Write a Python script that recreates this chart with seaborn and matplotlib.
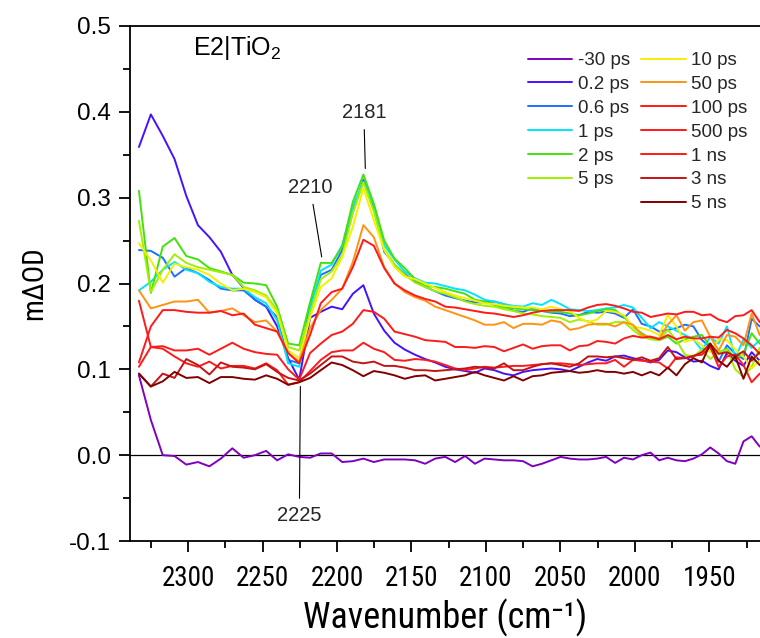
import numpy as np
import pandas as pd
import matplotlib
matplotlib.use("Agg")
import matplotlib.pyplot as plt
import seaborn as sns
from matplotlib.lines import Line2D
from matplotlib.ticker import MultipleLocator, FormatStrFormatter
from matplotlib import font_manager as fm
from matplotlib.font_manager import FontProperties

# ---------------- data ----------------
wavenumber = [2333.0, 2325.0, 2317.0, 2309.1, 2301.2, 2293.4, 2285.7, 2278.0, 2270.3, 2262.7,
              2255.1, 2247.6, 2240.2, 2232.8, 2225.4, 2218.1, 2210.9, 2203.6, 2196.5, 2189.4,
              2182.3, 2175.3, 2168.3, 2161.4, 2154.5, 2147.6, 2140.8, 2134.1, 2127.3, 2120.7,
              2114.0, 2107.4, 2100.9, 2094.4, 2087.9, 2081.5, 2075.1, 2068.7, 2062.4, 2056.1,
              2049.9, 2043.7, 2037.5, 2031.4, 2025.3, 2019.3, 2013.3, 2007.3, 2001.3, 1995.4,
              1989.5, 1983.7, 1977.9, 1972.1, 1966.4, 1960.7, 1955.0, 1949.4, 1943.8, 1938.2,
              1932.6, 1927.1, 1921.6, 1916.2]

delays = ["-30 ps", "0.2 ps", "0.6 ps", "1 ps", "2 ps", "5 ps",
          "10 ps", "50 ps", "100 ps", "500 ps", "1 ns", "3 ns", "5 ns"]

line_colors = ["#8000C0", "#4512FF", "#1E70FF", "#00E5FF", "#44E010", "#A0F000",
               "#F5EF00", "#FF9414", "#FF1A1A", "#FF1A1A", "#FF1A1A", "#C41414", "#800000"]

od_m30ps = [0.093, 0.041, 0.000, -0.001, -0.011, -0.008, -0.013, -0.004, 0.008, -0.003,
            0.000, 0.005, -0.006, 0.001, -0.002, -0.003, 0.002, 0.002, -0.008, -0.007,
            -0.004, -0.008, -0.005, -0.005, -0.005, -0.006, -0.010, -0.004, -0.002, -0.008,
            -0.001, -0.010, -0.004, -0.005, -0.006, -0.006, -0.007, -0.013, -0.010, -0.006,
            -0.002, -0.004, -0.005, -0.005, -0.004, -0.002, -0.009, -0.003, -0.005, 0.000,
            0.003, -0.006, -0.003, -0.006, -0.007, -0.004, 0.001, 0.009, 0.002, -0.007,
            -0.010, 0.016, 0.022, 0.010]

od_0p2ps = [0.359, 0.397, 0.372, 0.345, 0.302, 0.268, 0.254, 0.237, 0.210, 0.195,
            0.181, 0.173, 0.150, 0.113, 0.088, 0.160, 0.167, 0.173, 0.170, 0.188,
            0.198, 0.165, 0.145, 0.131, 0.123, 0.117, 0.112, 0.108, 0.103, 0.100,
            0.098, 0.096, 0.101, 0.099, 0.095, 0.093, 0.097, 0.099, 0.100, 0.101,
            0.100, 0.098, 0.103, 0.108, 0.112, 0.110, 0.115, 0.116, 0.113, 0.111,
            0.108, 0.111, 0.122, 0.120, 0.114, 0.109, 0.110, 0.104, 0.100, 0.119,
            0.110, 0.104, 0.120, 0.110]

od_0p6ps = [0.239, 0.238, 0.230, 0.208, 0.218, 0.212, 0.204, 0.194, 0.192, 0.192,
            0.181, 0.173, 0.161, 0.111, 0.107, 0.175, 0.210, 0.216, 0.239, 0.283,
            0.321, 0.288, 0.237, 0.222, 0.211, 0.202, 0.196, 0.191, 0.186, 0.183,
            0.180, 0.178, 0.178, 0.179, 0.176, 0.168, 0.167, 0.171, 0.168, 0.166,
            0.165, 0.162, 0.163, 0.167, 0.166, 0.167, 0.165, 0.160, 0.170, 0.153,
            0.150, 0.144, 0.146, 0.148, 0.152, 0.150, 0.134, 0.126, 0.109, 0.128,
            0.118, 0.112, 0.159, 0.150]

od_1ps = [0.192, 0.202, 0.216, 0.225, 0.216, 0.212, 0.202, 0.196, 0.194, 0.194,
          0.184, 0.177, 0.157, 0.107, 0.103, 0.170, 0.215, 0.222, 0.245, 0.290,
          0.318, 0.292, 0.245, 0.228, 0.214, 0.206, 0.201, 0.200, 0.197, 0.194,
          0.192, 0.187, 0.181, 0.179, 0.176, 0.174, 0.173, 0.177, 0.175, 0.181,
          0.176, 0.170, 0.169, 0.168, 0.169, 0.171, 0.172, 0.175, 0.172, 0.160,
          0.148, 0.155, 0.150, 0.145, 0.140, 0.135, 0.122, 0.138, 0.130, 0.150,
          0.113, 0.135, 0.125, 0.134]

od_2ps = [0.308, 0.189, 0.243, 0.253, 0.232, 0.228, 0.218, 0.214, 0.210, 0.201,
          0.200, 0.198, 0.173, 0.130, 0.128, 0.178, 0.224, 0.224, 0.243, 0.295,
          0.327, 0.293, 0.250, 0.229, 0.218, 0.205, 0.197, 0.196, 0.194, 0.191,
          0.188, 0.181, 0.179, 0.175, 0.172, 0.171, 0.170, 0.169, 0.168, 0.167,
          0.167, 0.165, 0.163, 0.165, 0.168, 0.170, 0.169, 0.161, 0.150, 0.142,
          0.136, 0.134, 0.138, 0.130, 0.135, 0.138, 0.140, 0.127, 0.120, 0.124,
          0.112, 0.118, 0.142, 0.130]

od_5ps = [0.273, 0.190, 0.216, 0.234, 0.224, 0.219, 0.216, 0.213, 0.210, 0.196,
          0.192, 0.186, 0.169, 0.126, 0.122, 0.165, 0.205, 0.214, 0.233, 0.282,
          0.318, 0.284, 0.240, 0.222, 0.210, 0.201, 0.196, 0.191, 0.188, 0.184,
          0.179, 0.176, 0.174, 0.173, 0.170, 0.168, 0.165, 0.164, 0.162, 0.161,
          0.160, 0.155, 0.158, 0.156, 0.152, 0.152, 0.155, 0.155, 0.146, 0.138,
          0.135, 0.134, 0.146, 0.134, 0.117, 0.115, 0.123, 0.112, 0.120, 0.123,
          0.100, 0.091, 0.103, 0.125]

od_10ps = [0.247, 0.227, 0.201, 0.223, 0.219, 0.216, 0.210, 0.200, 0.192, 0.194,
           0.190, 0.184, 0.165, 0.122, 0.113, 0.160, 0.196, 0.206, 0.231, 0.266,
           0.311, 0.274, 0.239, 0.219, 0.208, 0.205, 0.200, 0.195, 0.190, 0.186,
           0.183, 0.180, 0.177, 0.176, 0.174, 0.173, 0.172, 0.172, 0.170, 0.173,
           0.170, 0.168, 0.160, 0.155, 0.158, 0.168, 0.167, 0.163, 0.150, 0.148,
           0.145, 0.140, 0.163, 0.150, 0.132, 0.135, 0.128, 0.120, 0.135, 0.134,
           0.123, 0.115, 0.101, 0.110]

od_50ps = [0.192, 0.171, 0.175, 0.179, 0.179, 0.181, 0.166, 0.168, 0.171, 0.163,
           0.155, 0.157, 0.144, 0.119, 0.109, 0.148, 0.169, 0.181, 0.194, 0.225,
           0.268, 0.254, 0.219, 0.200, 0.190, 0.184, 0.180, 0.173, 0.169, 0.165,
           0.161, 0.157, 0.152, 0.152, 0.155, 0.148, 0.153, 0.153, 0.152, 0.157,
           0.155, 0.146, 0.148, 0.152, 0.153, 0.153, 0.150, 0.155, 0.152, 0.140,
           0.138, 0.136, 0.152, 0.163, 0.145, 0.155, 0.157, 0.138, 0.122, 0.140,
           0.138, 0.128, 0.165, 0.140]

od_100ps = [0.108, 0.150, 0.169, 0.169, 0.167, 0.166, 0.166, 0.168, 0.163, 0.165,
            0.152, 0.148, 0.144, 0.119, 0.107, 0.140, 0.177, 0.190, 0.194, 0.219,
            0.251, 0.244, 0.218, 0.200, 0.192, 0.186, 0.182, 0.179, 0.173, 0.172,
            0.170, 0.168, 0.166, 0.165, 0.163, 0.161, 0.163, 0.166, 0.168, 0.169,
            0.169, 0.169, 0.168, 0.172, 0.175, 0.176, 0.174, 0.171, 0.167, 0.166,
            0.161, 0.163, 0.165, 0.164, 0.167, 0.167, 0.163, 0.164, 0.158, 0.155,
            0.162, 0.163, 0.169, 0.155]

od_500ps = [0.103, 0.126, 0.127, 0.122, 0.122, 0.124, 0.117, 0.124, 0.131, 0.124,
            0.120, 0.118, 0.117, 0.100, 0.088, 0.119, 0.130, 0.140, 0.144, 0.153,
            0.169, 0.167, 0.159, 0.144, 0.141, 0.138, 0.134, 0.133, 0.132, 0.126,
            0.126, 0.125, 0.127, 0.126, 0.121, 0.125, 0.129, 0.124, 0.127, 0.128,
            0.128, 0.122, 0.127, 0.128, 0.133, 0.132, 0.130, 0.136, 0.139, 0.137,
            0.138, 0.135, 0.140, 0.135, 0.138, 0.136, 0.136, 0.138, 0.137, 0.146,
            0.142, 0.136, 0.128, 0.118]

od_1ns = [0.180, 0.126, 0.124, 0.115, 0.107, 0.103, 0.109, 0.101, 0.104, 0.104,
          0.101, 0.107, 0.099, 0.082, 0.085, 0.098, 0.111, 0.120, 0.122, 0.122,
          0.131, 0.124, 0.120, 0.111, 0.110, 0.112, 0.111, 0.109, 0.105, 0.101,
          0.099, 0.101, 0.103, 0.102, 0.103, 0.104, 0.104, 0.105, 0.106, 0.107,
          0.107, 0.106, 0.105, 0.106, 0.107, 0.107, 0.111, 0.103, 0.111, 0.110,
          0.109, 0.108, 0.101, 0.114, 0.113, 0.116, 0.117, 0.126, 0.103, 0.115,
          0.117, 0.105, 0.085, 0.095]

od_3ns = [0.095, 0.080, 0.095, 0.090, 0.112, 0.105, 0.094, 0.108, 0.103, 0.102,
          0.100, 0.106, 0.097, 0.090, 0.087, 0.095, 0.105, 0.115, 0.115, 0.109,
          0.107, 0.109, 0.104, 0.104, 0.102, 0.099, 0.099, 0.098, 0.099, 0.100,
          0.101, 0.103, 0.102, 0.101, 0.107, 0.099, 0.099, 0.103, 0.106, 0.107,
          0.105, 0.103, 0.107, 0.115, 0.115, 0.114, 0.115, 0.113, 0.111, 0.114,
          0.110, 0.113, 0.126, 0.112, 0.113, 0.115, 0.120, 0.130, 0.118, 0.120,
          0.115, 0.121, 0.110, 0.120]

od_5ns = [0.095, 0.080, 0.086, 0.097, 0.090, 0.091, 0.084, 0.091, 0.091, 0.089,
          0.088, 0.093, 0.089, 0.082, 0.085, 0.090, 0.099, 0.108, 0.105, 0.099,
          0.092, 0.098, 0.096, 0.093, 0.089, 0.092, 0.093, 0.087, 0.089, 0.091,
          0.093, 0.097, 0.093, 0.090, 0.087, 0.092, 0.087, 0.092, 0.093, 0.096,
          0.097, 0.098, 0.096, 0.097, 0.099, 0.097, 0.097, 0.095, 0.097, 0.093,
          0.097, 0.093, 0.102, 0.093, 0.106, 0.113, 0.108, 0.130, 0.110, 0.103,
          0.115, 0.089, 0.115, 0.105]

series_values = [od_m30ps, od_0p2ps, od_0p6ps, od_1ps, od_2ps, od_5ps, od_10ps,
                 od_50ps, od_100ps, od_500ps, od_1ns, od_3ns, od_5ns]

x_ticks = [2300, 2250, 2200, 2150, 2100, 2050, 2000, 1950]
y_ticks = [-0.1, 0.0, 0.1, 0.2, 0.3, 0.4, 0.5]

peak_labels = ["2181", "2210", "2225"]

# ---------------- build table ----------------
rows = []
for name, vals in zip(delays, series_values):
    for w, v in zip(wavenumber, vals):
        rows.append({"wn": w, "od": v, "delay": name})
df = pd.DataFrame(rows)
palette = dict(zip(delays, line_colors))

# ---------------- style ----------------
sns.set_theme(style="ticks")
plt.rcParams["font.family"] = ["Liberation Sans", "DejaVu Sans"]
plt.rcParams["axes.unicode_minus"] = False
plt.rcParams["mathtext.fontset"] = "custom"
plt.rcParams["mathtext.rm"] = "Liberation Sans"
plt.rcParams["mathtext.it"] = "Liberation Sans"

# look for a condensed / narrow sans face (used for the axis titles and x tick labels)
narrow_entry = None
pref = ["Liberation Sans Narrow", "Arial Narrow", "Roboto Condensed", "DejaVu Sans",
        "Noto Sans", "Open Sans"]
cands = [f for f in fm.fontManager.ttflist
         if (("Narrow" in f.name) or ("Condensed" in f.name)
             or (str(f.stretch) in ("condensed", "semi-condensed", "75", "87")))
         and f.style == "normal" and str(f.weight) in ("400", "normal", "regular", "book", "500")]
for p in pref:
    for f in cands:
        if f.name == p:
            narrow_entry = f
            break
    if narrow_entry:
        break
if narrow_entry is None and cands:
    narrow_entry = cands[0]


def xfont(size):
    if narrow_entry is not None:
        return FontProperties(family=[narrow_entry.name, "DejaVu Sans"],
                              stretch=narrow_entry.stretch, size=size)
    return FontProperties(family=["Liberation Sans", "DejaVu Sans"], size=size * 0.86)


fig = plt.figure(figsize=(7.6, 6.38), dpi=100)
ax = fig.add_axes([130 / 760, 1 - 541 / 638, 630 / 760, 515 / 638])

ax.axhline(0, color="black", lw=0.9, zorder=1)
sns.lineplot(data=df, x="wn", y="od", hue="delay", hue_order=delays,
             palette=palette, estimator=None, sort=False, lw=1.4,
             legend=False, ax=ax, zorder=2)

ax.set_xlim(2339, 1916)
ax.set_ylim(-0.1, 0.5)
ax.set_xticks(x_ticks)
ax.set_yticks(y_ticks)
ax.xaxis.set_minor_locator(MultipleLocator(25))
ax.yaxis.set_minor_locator(MultipleLocator(0.05))
ax.yaxis.set_major_formatter(FormatStrFormatter("%.1f"))

for side in ["left", "bottom", "top"]:
    ax.spines[side].set_linewidth(1.3)
    ax.spines[side].set_color("black")
ax.spines["right"].set_visible(False)

ax.tick_params(which="both", direction="out", top=False, right=False,
               color="black", width=1.3)
ax.tick_params(which="major", length=8)
ax.tick_params(which="minor", length=5)
ax.tick_params(axis="y", which="major", labelsize=17.5, pad=6, labelcolor="black")
ax.tick_params(axis="x", which="major", pad=9, labelcolor="black")
for lab in ax.get_xticklabels():
    lab.set_fontproperties(xfont(19.5))

ax.set_xlabel("Wavenumber (cm\u207b\u00b9)", fontproperties=xfont(26),
              color="black", labelpad=5)
ax.set_ylabel("m\u0394OD", fontproperties=xfont(21), color="black", labelpad=15)

ax.text(0.10, 0.957, "E2|TiO$_2$", transform=ax.transAxes, fontsize=18,
        ha="left", va="center", color="black")

ann_props = dict(arrowstyle="-", color="black", lw=0.8, shrinkA=3, shrinkB=0)
ax.annotate(peak_labels[0], xy=(2181, 0.334), xytext=(2182, 0.399),
            ha="center", va="center", fontsize=14.5, arrowprops=ann_props)
ax.annotate(peak_labels[1], xy=(2210.3, 0.231), xytext=(2218, 0.312),
            ha="center", va="center", fontsize=14.5, arrowprops=ann_props)
ax.annotate(peak_labels[2], xy=(2224.6, 0.080), xytext=(2225.3, -0.070),
            ha="center", va="center", fontsize=14.5, arrowprops=ann_props)

handles = [Line2D([0], [0], color=c, lw=1.4) for c in line_colors]
labels = list(delays)
handles.insert(6, Line2D([0], [0], color="none", lw=0))
labels.insert(6, "")
fig.legend(handles, labels, loc="upper left", bbox_to_anchor=(528 / 760, 1 - 52 / 638),
           ncol=2, frameon=False, fontsize=13.5, handlelength=2.35,
           handletextpad=0.3, columnspacing=0.62, labelspacing=0.36,
           borderpad=0, borderaxespad=0)

fig.savefig("out.png", dpi=100)
